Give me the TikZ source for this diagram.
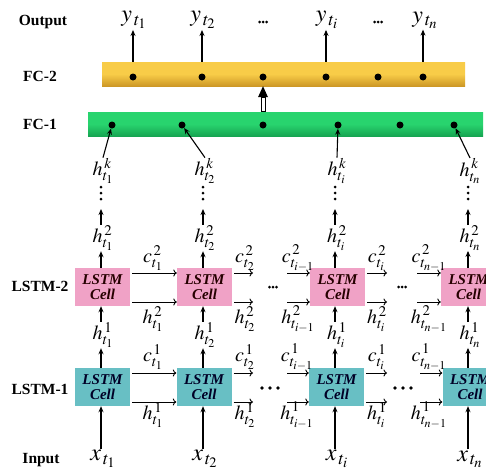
\documentclass[tikz,border=0pt]{standalone}
\usepackage{mathptmx}
\usepackage[no-math]{fontspec}
\setmainfont{Liberation Serif}
\usetikzlibrary{arrows.meta,calc}
\definecolor{pinkc}{RGB}{240,162,198}
\definecolor{tealc}{RGB}{104,191,196}
\definecolor{goldtop}{RGB}{248,204,72}
\definecolor{goldbot}{RGB}{205,152,38}
\definecolor{greentop}{RGB}{40,212,110}
\definecolor{greenbot}{RGB}{22,165,82}
\tikzset{
  side/.style={font=\fontsize{15.5}{15.5}\selectfont\bfseries, inner sep=0pt},
  cellbox/.style={minimum width=55pt, minimum height=38pt, inner sep=0pt, align=center,
     font=\fontsize{15}{15.5}\selectfont\bfseries\itshape},
  cellA/.style={cellbox, fill=pinkc, text=black!85!red},
  cellB/.style={cellbox, fill=tealc, text=black!85!blue},
  mlbl/.style={font=\fontsize{20}{20}\selectfont, inner sep=0.5pt},
  biglbl/.style={font=\fontsize{24}{24}\selectfont, inner sep=1pt},
  arr/.style={-{Stealth[length=6pt,width=5pt]}, line width=1.1pt},
  harr/.style={-{To[length=3.5pt,width=7pt]}, line width=0.9pt},
  fcdot/.style={circle, fill=black, inner sep=0pt, minimum size=7pt},
  sdot/.style={circle, fill=black, inner sep=0pt, minimum size=3pt},
  bdot/.style={circle, fill=black, inner sep=0pt, minimum size=3.8pt},
}
\begin{document}
\begin{tikzpicture}[x=1pt,y=-1pt]
\clip (0,0) rectangle (486,474);
\fill[white] (0,0) rectangle (486,474);

% side labels
\node[side] (lout) at (43,22) {Output};
\node[side] (lfc2) at (40,76) {FC-2};
\node[side] (lfc1) at (40,124) {FC-1};
\node[side] (ll2) at (40,286) {LSTM-2};
\node[side] (ll1) at (40,389) {LSTM-1};
\node[side] (lin) at (41,460) {Input};

% FC bars
\shade[top color=goldtop, bottom color=goldbot, middle color=goldtop] (102,62) rectangle (465,86);
\node[inner sep=0pt, minimum width=363pt, minimum height=24pt] (fc2) at (283.5,74) {};
\shade[top color=greentop, bottom color=greenbot, middle color=greentop] (88,112) rectangle (483,136);
\node[inner sep=0pt, minimum width=395pt, minimum height=24pt] (fc1) at (285.5,124) {};

% FC-2 dots
\foreach \i/\x in {1/133,2/202,3/263,4/326,5/378,6/423}
  \node[fcdot] (u\i) at (\x,77) {};
% FC-1 dots
\foreach \i/\x in {1/112,2/182,3/263,4/338,5/400,6/454}
  \node[fcdot] (v\i) at (\x,125) {};

% outputs
\node[biglbl] (y1) at (134,20) {$y_{\,t_1}$};
\node[biglbl] (y2) at (203,20) {$y_{\,t_2}$};
\node[biglbl] (y4) at (327,20) {$y_{\,t_i}$};
\node[biglbl] (y6) at (425,20) {$y_{\,t_n}$};
\foreach \n/\x in {oa/263,ob/378}{
  \node[sdot] (\n1) at (\x-3.5,22) {};
  \node[sdot] (\n2) at (\x,22) {};
  \node[sdot] (\n3) at (\x+3.5,22) {};
}
\draw[arr] (u1 |- fc2.north) -- (u1 |- y1.south);
\draw[arr] (u2 |- fc2.north) -- (u2 |- y2.south);
\draw[arr] (u4 |- fc2.north) -- (u4 |- y4.south);
\draw[arr] (u6 |- fc2.north) -- (u6 |- y6.south);

% double arrow between FC-1 and FC-2
\coordinate (dA) at (v3 |- fc1.north);
\coordinate (dB) at (u3 |- fc2.south);
\draw[line width=0.8pt, fill=white] ($(dA)+(-2,0)$) rectangle ($(dB)+(2,11)$);
\fill ($(dB)+(-5,11)$) -- ($(dB)+(5,11)$) -- (dB) -- cycle;

% LSTM boxes
\node[cellA] (a1) at (102.5,287) {LSTM\\Cell};
\node[cellA] (a2) at (204.5,287) {LSTM\\Cell};
\node[cellA] (a3) at (337.5,287) {LSTM\\Cell};
\node[cellA] (a4) at (468.5,287) {LSTM\\Cell};
\node[cellB] (b1) at (102.5,387) {LSTM\\Cell};
\node[cellB] (b2) at (204,387) {LSTM\\Cell};
\node[cellB] (b3) at (336.5,387) {LSTM\\Cell};
\node[cellB] (b4) at (470,387) {LSTM\\Cell};

% vertical chains
\foreach \c/\x/\s in {1/101/t_1,2/203/t_2,3/335/t_i,4/468/t_n}{
  \node[biglbl] (x\c) at (\x+2,459) {$x_{\,\s}$};
  \node[mlbl] (g\c) at (\x+2,335) {$h^{\,1}_{\s}$};
  \node[mlbl] (k\c) at (\x+2,238) {$h^{\,2}_{\s}$};
  \node[mlbl] (m\c) at (\x+2,171) {$h^{\,k}_{\s}$};
  \node[sdot] (p\c1) at (\x,187) {};
  \node[sdot] (p\c2) at (\x,193) {};
  \node[sdot] (p\c3) at (\x,199) {};
  \draw[arr] (x\c.north -| p\c1) -- (b\c.south -| p\c1);
  \draw[arr] (b\c.north -| p\c1) -- (g\c.south -| p\c1);
  \draw[arr] (g\c.north -| p\c1) -- (a\c.south -| p\c1);
  \draw[arr] (a\c.north -| p\c1) -- (k\c.south -| p\c1);
  \draw[arr] (k\c.north -| p\c1) -- ($(p\c3)+(0,10)$);
}
\draw[arr] (m1.north) -- (v1);
\draw[arr] (m2.north) -- (v2);
\draw[arr] (m3.north) -- (v4);
\draw[arr] (m4.north) -- (v6);

% horizontal free ends
\coordinate (ac2) at (253,273); \coordinate (ah2) at (253,302);
\coordinate (ac3) at (287,273); \coordinate (ah3) at (287,302);
\coordinate (ac4) at (387,273); \coordinate (ah4) at (387,302);
\coordinate (ac5) at (417,273); \coordinate (ah5) at (417,302);
\coordinate (bc2) at (253,373); \coordinate (bh2) at (253,402);
\coordinate (bc3) at (287,373); \coordinate (bh3) at (287,402);
\coordinate (bc4) at (387,373); \coordinate (bh4) at (387,402);
\coordinate (bc5) at (420,373); \coordinate (bh5) at (420,402);

% LSTM-2 horizontal
\draw[harr, shorten <=2pt] (a1.east |- ac2) -- (a2.west |- ac2);
\draw[harr, shorten <=2pt] (a1.east |- ah2) -- (a2.west |- ah2);
\draw[harr, shorten <=2pt] (a2.east |- ac2) -- (ac2);
\draw[harr, shorten <=2pt] (a2.east |- ah2) -- (ah2);
\draw[harr] (ac3) -- (a3.west |- ac3);
\draw[harr] (ah3) -- (a3.west |- ah3);
\draw[harr, shorten <=2pt] (a3.east |- ac4) -- (ac4);
\draw[harr, shorten <=2pt] (a3.east |- ah4) -- (ah4);
\draw[harr] (ac5) -- (a4.west |- ac5);
\draw[harr] (ah5) -- (a4.west |- ah5);

% LSTM-1 horizontal
\draw[harr, shorten <=2pt] (b1.east |- bc2) -- (b2.west |- bc2);
\draw[harr, shorten <=2pt] (b1.east |- bh2) -- (b2.west |- bh2);
\draw[harr, shorten <=2pt] (b2.east |- bc2) -- (bc2);
\draw[harr, shorten <=2pt] (b2.east |- bh2) -- (bh2);
\draw[harr] (bc3) -- (b3.west |- bc3);
\draw[harr] (bh3) -- (b3.west |- bh3);
\draw[harr, shorten <=2pt] (b3.east |- bc4) -- (bc4);
\draw[harr, shorten <=2pt] (b3.east |- bh4) -- (bh4);
\draw[harr] (bc5) -- (b4.west |- bc5);
\draw[harr] (bh5) -- (b4.west |- bh5);

% horizontal labels LSTM-2
\node[mlbl] (lc21) at (153,258) {$c^{\,2}_{t_1}$};
\node[mlbl] (lh21) at (153,319) {$h^{\,2}_{t_1}$};
\node[mlbl] (lc22) at (245,258) {$c^{\,2}_{t_2}$};
\node[mlbl] (lh22) at (245,319) {$h^{\,2}_{t_2}$};
\node[mlbl] (lc23) at (298,258) {$c^{\,2}_{t_{i-1}}$};
\node[mlbl] (lh23) at (298,319) {$h^{\,2}_{t_{i-1}}$};
\node[mlbl] (lc24) at (377,258) {$c^{\,2}_{t_i}$};
\node[mlbl] (lh24) at (377,319) {$h^{\,2}_{t_i}$};
\node[mlbl] (lc25) at (429,258) {$c^{\,2}_{t_{n-1}}$};
\node[mlbl] (lh25) at (429,319) {$h^{\,2}_{t_{n-1}}$};

% horizontal labels LSTM-1
\node[mlbl] (lc11) at (153,357) {$c^{\,1}_{t_1}$};
\node[mlbl] (lh11) at (153,415) {$h^{\,1}_{t_1}$};
\node[mlbl] (lc12) at (245,357) {$c^{\,1}_{t_2}$};
\node[mlbl] (lh12) at (245,415) {$h^{\,1}_{t_2}$};
\node[mlbl] (lc13) at (297,357) {$c^{\,1}_{t_{i-1}}$};
\node[mlbl] (lh13) at (297,415) {$h^{\,1}_{t_{i-1}}$};
\node[mlbl] (lc14) at (377,357) {$c^{\,1}_{t_i}$};
\node[mlbl] (lh14) at (377,415) {$h^{\,1}_{t_i}$};
\node[mlbl] (lc15) at (429,357) {$c^{\,1}_{t_{n-1}}$};
\node[mlbl] (lh15) at (429,415) {$h^{\,1}_{t_{n-1}}$};

% ellipses in rows
\foreach \n/\x in {ea/273,eb/402}{
  \node[sdot] (\n1) at (\x-3.5,287) {};
  \node[sdot] (\n2) at (\x,287) {};
  \node[sdot] (\n3) at (\x+3.5,287) {};
}
\foreach \n/\x in {fa/270,fb/403}{
  \node[bdot] (\n1) at (\x-8,388) {};
  \node[bdot] (\n2) at (\x,388) {};
  \node[bdot] (\n3) at (\x+8,388) {};
}
\end{tikzpicture}
\end{document}
